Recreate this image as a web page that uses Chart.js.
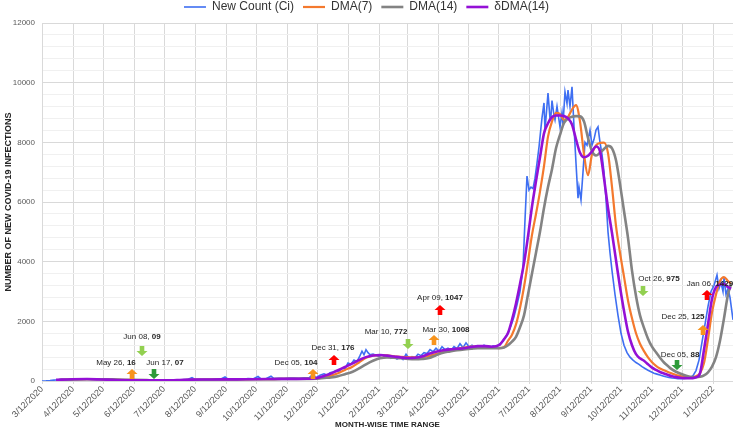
<!DOCTYPE html>
<html>
<head>
<meta charset="utf-8">
<script src="https://cdn.jsdelivr.net/npm/chart.js@4.4.1/dist/chart.umd.min.js"></script>
<style>
  html, body { margin: 0; padding: 0; background: #fff; }
</style>
</head>
<body>
<canvas id="chart" width="733" height="432"></canvas>
<script>
// x values are day numbers counted from 3/12/2020
const tickLabels = ['3/12/2020', '4/12/2020', '5/12/2020', '6/12/2020', '7/12/2020', '8/12/2020',
  '9/12/2020', '10/12/2020', '11/12/2020', '12/12/2020', '1/12/2021', '2/12/2021', '3/12/2021',
  '4/12/2021', '5/12/2021', '6/12/2021', '7/12/2021', '8/12/2021', '9/12/2021', '10/12/2021',
  '11/12/2021', '12/12/2021', '1/12/2022'];

const countDays = [0, 4, 8, 12, 16, 20, 25, 30, 35, 40, 45, 50, 55, 60, 65, 70, 75, 80, 85, 90, 95, 100,
  105, 110, 115, 120, 125, 130, 135, 140, 145, 150, 153, 158, 163, 168, 173, 178, 183, 186, 191, 196,
  201, 206, 211, 216, 219, 224, 229, 232, 237, 242, 247, 252, 257, 262, 267, 271, 274, 278, 282, 285,
  288, 291, 294, 297, 300, 303, 306, 309, 312, 315, 318, 320, 322, 324, 326, 328, 331, 334, 337, 340,
  343, 346, 349, 352, 355, 358, 361, 364, 367, 370, 373, 376, 379, 382, 385, 388, 391, 394, 397, 400,
  403, 406, 409, 412, 415, 418, 421, 424, 427, 430, 433, 436, 439, 442, 445, 448, 451, 454, 457, 460,
  463, 466, 469, 472, 475, 478, 481, 483, 485, 487, 489, 491, 493, 495, 497, 499, 500, 502, 503, 506,
  508, 509, 510, 512, 513, 515, 518, 520, 521, 523, 525, 526, 528, 530, 532, 534, 536, 537, 539, 541,
  543, 545, 548, 550, 552, 554, 556, 558, 560, 562, 564, 566, 568, 570, 573, 576, 579, 582, 585, 588,
  591, 594, 597, 600, 603, 606, 609, 612, 615, 618, 621, 624, 627, 630, 633, 636, 639, 642, 645, 648,
  651, 654, 657, 660, 663, 666, 669, 672, 675, 677, 679, 681, 682, 684, 686, 688, 691];
const newCount = [0, 5, 15, 30, 40, 55, 60, 70, 55, 75, 65, 55, 50, 45, 40, 30, 25, 20, 16, 15, 10, 9,
  12, 7, 15, 20, 25, 30, 35, 40, 45, 110, 50, 55, 60, 50, 60, 55, 140, 60, 65, 70,
  60, 80, 70, 150, 70, 75, 160, 80, 90, 85, 95, 100, 90, 110, 104, 220, 110, 190, 240, 200,
  280, 300, 350, 330, 420, 420, 600, 560, 700, 650, 850, 1000, 880, 1050, 950, 880, 900, 860, 820, 880,
  800, 850, 760, 820, 740, 800, 720, 900, 760, 820, 780, 900, 850, 950, 920, 1050, 980, 1100, 1000, 1150,
  1050, 1100, 1020, 1150, 1080, 1250, 1120, 1280, 1150, 1200, 1100, 1180, 1120, 1200, 1150, 1120, 1180, 1150, 1220, 1300,
  1450, 1600, 1850, 2150, 2550, 3000, 3800, 5400, 6870, 6400, 6500, 6450, 6800, 7300, 7840, 8500, 8820, 9320, 8400, 9650,
  8800, 8900, 9400, 8900, 8750, 9200, 8520, 9000, 8600, 9690, 9300, 9750, 9200, 9860, 8520, 7300, 6130, 6500, 6070, 7000,
  8000, 7900, 8410, 7900, 8100, 8410, 8520, 8000, 7600, 7000, 6100, 5000, 4300, 3700, 2900, 2200, 1600, 1200, 950, 800,
  700, 620, 560, 480, 420, 360, 310, 260, 230, 200, 170, 140, 120, 100, 90, 80, 75, 88, 90, 110,
  180, 350, 700, 1300, 1900, 2500, 3000, 3200, 3550, 3100, 3300, 3000, 3450, 2900, 3100, 2800, 2050];

const avgDays = [14, 30, 45, 60, 75, 90, 105, 120, 135, 150, 165, 180, 195, 210, 225, 240, 255, 265,
  275, 282, 289, 296, 303, 310, 317, 324, 331, 338, 345, 352, 359, 366, 373, 380, 387, 394, 401, 408,
  415, 422, 429, 436, 443, 450, 457,
  462, 466, 470, 474, 478, 482, 486, 490, 494, 498, 502, 506, 510, 514, 518, 522, 526, 530, 534, 538,
  542, 546, 550, 554, 558, 562, 566, 570, 574, 578, 582, 586, 590, 594, 598, 602, 606, 610, 614, 618,
  622, 626, 630, 634, 638, 642, 646, 650, 654, 658, 662, 666, 670, 674, 678, 682, 686, 689];
const dma7 = [30, 55, 65, 55, 40, 28, 20, 18, 25, 40, 50, 55, 55, 58, 62, 68, 70, 72,
  90, 130, 180, 260, 370, 470, 620, 780, 850, 870, 860, 830, 810, 800, 790, 800, 840, 900, 970, 1040,
  1080, 1120, 1150, 1150, 1150, 1120, 1100,
  1130, 1350, 1550, 1900, 2450, 3150, 4000, 4900, 5600, 6350, 7200, 8190, 8700, 8990, 8950, 8750, 8850, 9100, 9250, 8700,
  7600, 6900, 7600, 7900, 7980, 7990, 7640, 6510, 5200, 4300, 3500, 2700, 2100, 1600, 1250, 1000, 790, 630, 510, 420,
  360, 300, 250, 200, 170, 140, 130, 130, 160, 260, 600, 1400, 2300, 2900, 3350, 3480, 3350, 3250];
const dma14 = [20, 45, 60, 60, 50, 38, 28, 22, 22, 32, 42, 50, 55, 57, 60, 65, 68, 70,
  75, 100, 120, 160, 230, 300, 420, 560, 680, 760, 790, 780, 760, 740, 730, 740, 770, 860, 950, 990,
  1030, 1060, 1080, 1100, 1100, 1100, 1100,
  1120, 1200, 1320, 1480, 1800, 2200, 2900, 3600, 4300, 5000, 5800, 6500, 7100, 7800, 8250, 8650, 8800, 8860, 8880, 8870,
  8700, 8150, 7700, 7560, 7650, 7780, 7880, 7800, 7400, 6600, 5700, 4800, 3700, 2850, 2200, 1780, 1420, 1150, 960, 780,
  620, 500, 390, 310, 250, 200, 160, 135, 125, 140, 190, 290, 480, 800, 1350, 2100, 2900, 3250];
const deltaDma14 = [40, 60, 65, 50, 35, 25, 20, 20, 30, 45, 50, 55, 55, 60, 65, 70, 70, 75,
  100, 170, 250, 360, 470, 580, 700, 800, 855, 870, 850, 820, 790, 770, 780, 820, 910, 980, 1030, 1060,
  1080, 1100, 1140, 1170, 1170, 1150, 1200,
  1400, 1610, 2050, 2600, 3250, 3950, 4850, 5850, 6700, 7500, 8300, 8640, 8850, 8900, 8900, 8880, 8800, 8600, 8100, 7650,
  7500, 7550, 7700, 7860, 7700, 6800, 5800, 4960, 4050, 3150, 2350, 1650, 1200, 900, 760, 680, 560, 450, 370, 300,
  250, 200, 160, 130, 110, 95, 90, 95, 120, 260, 1050, 1900, 2750, 3150, 3230, 3250, 3150, 3090];

// callouts: arrow anchored at (day, level), text offset in px from the arrow
const notes = [
  { date: 'Jun 08, ', num: '09', day: 100, level: 1005, dir: 'down', color: '#92d050', dx: 0, dy: -14 },
  { date: 'May 26, ', num: '16', day: 90, level: 235, dir: 'up', color: '#f7941d', dx: -16, dy: -11 },
  { date: 'Jun 17, ', num: '07', day: 112, level: 235, dir: 'down', color: '#2e9a3a', dx: 11, dy: -11 },
  { date: 'Dec 05, ', num: '104', day: 271, level: 235, dir: 'up', color: '#f7941d', dx: -17, dy: -11 },
  { date: 'Dec 31, ', num: '176', day: 292, level: 705, dir: 'up', color: '#ff0000', dx: -1, dy: -12 },
  { date: 'Mar 10, ', num: '772', day: 366, level: 1240, dir: 'down', color: '#92d050', dx: -22, dy: -12 },
  { date: 'Mar 30, ', num: '1008', day: 392, level: 1375, dir: 'up', color: '#f7941d', dx: 12, dy: -10 },
  { date: 'Apr 09, ', num: '1047', day: 398, level: 2380, dir: 'up', color: '#ff0000', dx: 0, dy: -12 },
  { date: 'Oct 26, ', num: '975', day: 601, level: 3015, dir: 'down', color: '#92d050', dx: 16, dy: -12 },
  { date: 'Jan 06, ', num: '1429', day: 665, level: 2880, dir: 'up', color: '#ff0000', dx: 3, dy: -11 },
  { date: 'Dec 25, ', num: '125', day: 661, level: 1710, dir: 'up', color: '#f7941d', dx: -20, dy: -13 },
  { date: 'Dec 05, ', num: '88', day: 635, level: 535, dir: 'down', color: '#2e9a3a', dx: 3, dy: -10 }
];

const day0 = Date.UTC(2020, 2, 12);
const tickDays = tickLabels.map(s => {
  const [m, d, y] = s.split('/').map(Number);
  return Math.round((Date.UTC(y, m - 1, d) - day0) / 86400000);
});

const pairs = (xs, ys) => xs.map((x, i) => ({ x: x, y: ys[i] }));
const FONT = "'Liberation Sans', Arial, sans-serif";

function drawArrow(ctx, cx, cy, dir, color) {
  const s = dir === 'up' ? 1 : -1;
  ctx.save();
  ctx.fillStyle = color;
  ctx.beginPath();
  ctx.moveTo(cx, cy - 5 * s);
  ctx.lineTo(cx + 5.5, cy);
  ctx.lineTo(cx + 2.3, cy);
  ctx.lineTo(cx + 2.3, cy + 5 * s);
  ctx.lineTo(cx - 2.3, cy + 5 * s);
  ctx.lineTo(cx - 2.3, cy);
  ctx.lineTo(cx - 5.5, cy);
  ctx.closePath();
  ctx.fill();
  ctx.restore();
}

const callouts = {
  id: 'callouts',
  afterDatasetsDraw(chart) {
    const { ctx } = chart;
    const xs = chart.scales.x, ys = chart.scales.y;
    notes.forEach(n => {
      const px = xs.getPixelForValue(n.day);
      const py = ys.getPixelForValue(n.level);
      drawArrow(ctx, px, py, n.dir, n.color);
      ctx.save();
      ctx.textBaseline = 'middle';
      ctx.fillStyle = '#262626';
      ctx.font = '8px ' + FONT;
      const w1 = ctx.measureText(n.date).width;
      ctx.font = 'bold 8px ' + FONT;
      const w2 = ctx.measureText(n.num).width;
      const left = px + n.dx - (w1 + w2) / 2;
      const ty = py + n.dy;
      ctx.font = '8px ' + FONT;
      ctx.fillText(n.date, left, ty);
      ctx.font = 'bold 8px ' + FONT;
      ctx.fillText(n.num, left + w1, ty);
      ctx.restore();
    });
  }
};

// keep wide spacing between legend items but a short legend box
const legendFix = {
  id: 'legendFix',
  beforeLayout(chart) {
    const lg = chart.legend;
    if (lg && !lg._fixed) {
      const fit = lg.fit;
      lg.fit = function () { fit.call(this); this.height = 23; };
      lg._fixed = true;
    }
  },
  afterLayout(chart) {
    chart.legend.top = -8;
    chart.legend.bottom = 15;
  }
};

new Chart(document.getElementById('chart'), {
  type: 'line',
  data: {
    datasets: [{
      label: 'New Count (Ci)',
      data: pairs(countDays, newCount),
      borderColor: '#3e6ff2',
      backgroundColor: '#3e6ff2',
      borderWidth: 1.6,
      tension: 0,
      order: 4
    }, {
      label: 'DMA(7)',
      data: pairs(avgDays, dma7),
      borderColor: '#f4792e',
      backgroundColor: '#f4792e',
      borderWidth: 2.2,
      cubicInterpolationMode: 'monotone',
      order: 3
    }, {
      label: 'DMA(14)',
      data: pairs(avgDays, dma14),
      borderColor: '#838383',
      backgroundColor: '#838383',
      borderWidth: 2.6,
      cubicInterpolationMode: 'monotone',
      order: 2
    }, {
      label: 'δDMA(14)',
      data: pairs(avgDays, deltaDma14),
      borderColor: '#9410d6',
      backgroundColor: '#9410d6',
      borderWidth: 2.6,
      cubicInterpolationMode: 'monotone',
      order: 1
    }]
  },
  options: {
    responsive: false,
    animation: false,
    layout: { padding: 0 },
    elements: { point: { radius: 0 } },
    plugins: {
      tooltip: { enabled: false },
      legend: {
        position: 'top',
        labels: {
          usePointStyle: true,
          pointStyle: 'line',
          pointStyleWidth: 22,
          boxWidth: 22,
          padding: 9,
          color: '#333333',
          font: { family: FONT, size: 12 },
          sort: (a, b) => a.datasetIndex - b.datasetIndex
        }
      }
    },
    scales: {
      x: {
        type: 'linear',
        min: 0,
        max: 691,
        afterBuildTicks: scale => { scale.ticks = tickDays.map(v => ({ value: v })); },
        afterFit: scale => { scale.height = 51; scale.paddingLeft = 0; scale.paddingRight = 0; },
        ticks: {
          autoSkip: false,
          minRotation: 45,
          maxRotation: 45,
          padding: 0,
          color: '#595959',
          font: { family: FONT, size: 9 },
          callback: (v, i) => tickLabels[i]
        },
        grid: { color: '#d9d9d9', tickLength: 3 },
        border: { color: '#d9d9d9' },
        title: {
          display: true,
          text: 'MONTH-WISE TIME RANGE',
          color: '#262626',
          font: { family: FONT, size: 8, weight: 'bold' },
          padding: { top: 0, bottom: 2 }
        }
      },
      y: {
        min: 0,
        max: 12000,
        afterFit: scale => { scale.width = 42; },
        ticks: {
          stepSize: 400,
          autoSkip: false,
          padding: 7,
          color: '#595959',
          font: { family: FONT, size: 8 },
          callback: v => (v % 2000 === 0 ? String(v) : '')
        },
        grid: {
          drawTicks: false,
          color: c => (c.tick && c.tick.value % 2000 === 0 ? '#d9d9d9' : '#f0f0f0')
        },
        border: { color: '#d9d9d9' },
        title: {
          display: true,
          text: 'NUMBER OF NEW COVID-19 INFECTIONS',
          color: '#262626',
          font: { family: FONT, size: 9, weight: 'bold' },
          padding: { top: 3, bottom: 0 }
        }
      }
    }
  },
  plugins: [callouts, legendFix]
});
</script>
</body>
</html>
